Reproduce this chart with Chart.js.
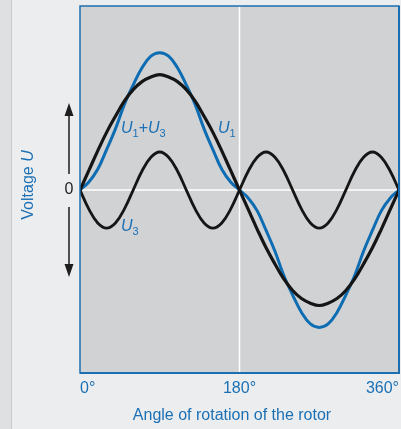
<!DOCTYPE html>
<html>
<head>
<meta charset="utf-8">
<script src="https://cdn.jsdelivr.net/npm/chart.js@4"></script>
<style>
  html, body { margin: 0; padding: 0; }
  body {
    width: 401px; height: 429px; overflow: hidden;
    background: linear-gradient(to right, #dfe0e1 0, #dfe0e1 11px, #c9cacb 11px, #c9cacb 12px, #ecedee 12px);
  }
  canvas { display: block; }
</style>
</head>
<body>
<canvas id="chart" width="401" height="429"></canvas>
<script>
// rotor angle in degrees
const angles = [0, 10, 20, 30, 40, 50, 60, 70, 80, 90, 100, 110, 120, 130, 140, 150, 160, 170, 180,
  190, 200, 210, 220, 230, 240, 250, 260, 270, 280, 290, 300, 310, 320, 330, 340, 350, 360]
// fundamental U1
const u1 = [0, 0.17, 0.34, 0.5, 0.64, 0.77, 0.87, 0.94, 0.98, 1, 0.98, 0.94, 0.87, 0.77, 0.64, 0.5, 0.34, 0.17, 0,
  -0.17, -0.34, -0.5, -0.64, -0.77, -0.87, -0.94, -0.98, -1, -0.98, -0.94, -0.87, -0.77, -0.64, -0.5, -0.34, -0.17, 0]
// third harmonic U3
const u3 = [0, -0.165, -0.285, -0.33, -0.285, -0.165, 0, 0.165, 0.285, 0.33, 0.285, 0.165, 0, -0.165, -0.285, -0.33, -0.285, -0.165, 0,
  0.165, 0.285, 0.33, 0.285, 0.165, 0, -0.165, -0.285, -0.33, -0.285, -0.165, 0, 0.165, 0.285, 0.33, 0.285, 0.165, 0]
// resulting U1+U3
const u13 = [0, 0.07, 0.18, 0.35, 0.53, 0.74, 0.91, 1.06, 1.16, 1.19, 1.16, 1.06, 0.91, 0.74, 0.53, 0.35, 0.18, 0.07, 0,
  -0.07, -0.18, -0.35, -0.53, -0.74, -0.91, -1.06, -1.16, -1.19, -1.16, -1.06, -0.91, -0.74, -0.53, -0.35, -0.18, -0.07, 0]
const tickAngles = [0, 180, 360]
const tickLabels = ['0°', '180°', '360°']

const BLUE = '#0e6db2'
const TEXT_BLUE = '#1b70b5'
const FONT = '"Liberation Sans", Arial, Helvetica, sans-serif'

const toPoints = ys => ys.map((y, i) => ({x: angles[i], y}))

// draws text like "U1+U3" with italic U and small upright subscripts
function drawSym(ctx, parts, x, y, size) {
    let cx = x
    parts.forEach(p => {
        if (p.sub) {
            ctx.font = `${Math.round(size * 0.7)}px ${FONT}`
            ctx.fillText(p.t, cx, y + size * 0.28)
        } else {
            ctx.font = `${p.i ? 'italic ' : ''}${size}px ${FONT}`
            ctx.fillText(p.t, cx, y)
        }
        cx += ctx.measureText(p.t).width
    })
}

const decor = {
    id: 'decor',
    beforeDatasetsDraw(chart) {
        const {ctx, chartArea: a, scales: {x, y}} = chart
        ctx.save()
        ctx.fillStyle = '#d1d2d4'
        ctx.fillRect(a.left, a.top, a.right - a.left, a.bottom - a.top)
        ctx.strokeStyle = '#ffffff'
        ctx.lineWidth = 1.5
        const x180 = x.getPixelForValue(180)
        const y0 = y.getPixelForValue(0)
        ctx.beginPath()
        ctx.moveTo(x180, a.top); ctx.lineTo(x180, a.bottom)
        ctx.moveTo(a.left, y0); ctx.lineTo(a.right, y0)
        ctx.stroke()
        ctx.restore()
    },
    afterDatasetsDraw(chart) {
        const {ctx, chartArea: a, scales: {x, y}} = chart
        ctx.save()
        // frame
        ctx.strokeStyle = '#1b6fb0'
        ctx.lineWidth = 1.5
        ctx.strokeRect(a.left, a.top, a.right - a.left, a.bottom - a.top)
        ctx.lineWidth = 2
        ctx.beginPath()
        ctx.moveTo(a.left, a.bottom); ctx.lineTo(a.right, a.bottom); ctx.lineTo(a.right, a.top)
        ctx.stroke()

        // x tick labels
        ctx.fillStyle = TEXT_BLUE
        ctx.font = `16px ${FONT}`
        ctx.textBaseline = 'middle'
        tickAngles.forEach((v, i) => {
            ctx.textAlign = i === 0 ? 'left' : (i === tickAngles.length - 1 ? 'right' : 'center')
            ctx.fillText(tickLabels[i], x.getPixelForValue(v), a.bottom + 16)
        })
        ctx.textAlign = 'center'
        ctx.fillText('Angle of rotation of the rotor', 232, a.bottom + 43)

        // voltage arrow
        const y0 = y.getPixelForValue(0)
        const ax = 69
        ctx.strokeStyle = '#1e1e1e'
        ctx.fillStyle = '#1e1e1e'
        ctx.lineWidth = 1.5
        ctx.beginPath()
        ctx.moveTo(ax, 112); ctx.lineTo(ax, y0 - 16)
        ctx.moveTo(ax, y0 + 17); ctx.lineTo(ax, 268)
        ctx.stroke()
        ctx.beginPath()
        ctx.moveTo(ax, 103); ctx.lineTo(ax - 4.5, 116); ctx.lineTo(ax + 4.5, 116); ctx.closePath()
        ctx.moveTo(ax, 277); ctx.lineTo(ax - 4.5, 264); ctx.lineTo(ax + 4.5, 264); ctx.closePath()
        ctx.fill()
        ctx.font = `16px ${FONT}`
        ctx.textAlign = 'center'
        ctx.fillText('0', ax, y0)

        // y title
        ctx.save()
        ctx.translate(29, 185)
        ctx.rotate(-Math.PI / 2)
        ctx.fillStyle = TEXT_BLUE
        ctx.textAlign = 'left'
        ctx.font = `16px ${FONT}`
        const w1 = ctx.measureText('Voltage ').width
        ctx.font = `italic 16px ${FONT}`
        const w2 = ctx.measureText('U').width
        drawSym(ctx, [{t: 'Voltage '}, {t: 'U', i: true}], -(w1 + w2) / 2, 0, 16)
        ctx.restore()

        // curve labels
        ctx.fillStyle = TEXT_BLUE
        ctx.textAlign = 'left'
        ctx.textBaseline = 'alphabetic'
        drawSym(ctx, [{t: 'U', i: true}, {t: '1', sub: true}, {t: '+'}, {t: 'U', i: true}, {t: '3', sub: true}], 121, 133, 16)
        drawSym(ctx, [{t: 'U', i: true}, {t: '1', sub: true}], 218, 133, 16)
        drawSym(ctx, [{t: 'U', i: true}, {t: '3', sub: true}], 121, 231, 16)
        ctx.restore()
    }
}

new Chart('chart', {
    type: 'line',
    data: {
        datasets: [
            {label: 'U1', data: toPoints(u1), borderColor: '#151515', borderWidth: 3.2, order: 1},
            {label: 'U3', data: toPoints(u3), borderColor: '#151515', borderWidth: 2.8, order: 2},
            {label: 'U1+U3', data: toPoints(u13), borderColor: BLUE, borderWidth: 3, order: 3}
        ]
    },
    options: {
        responsive: false,
        animation: false,
        layout: {padding: {left: 80, top: 6, right: 2, bottom: 56}},
        elements: {
            point: {radius: 0},
            line: {tension: 0.4, borderCapStyle: 'round', borderJoinStyle: 'round'}
        },
        plugins: {legend: {display: false}, tooltip: {enabled: false}},
        scales: {
            x: {type: 'linear', min: 0, max: 360, display: false},
            y: {type: 'linear', min: -1.585, max: 1.595, display: false}
        }
    },
    plugins: [decor]
})
</script>
</body>
</html>
